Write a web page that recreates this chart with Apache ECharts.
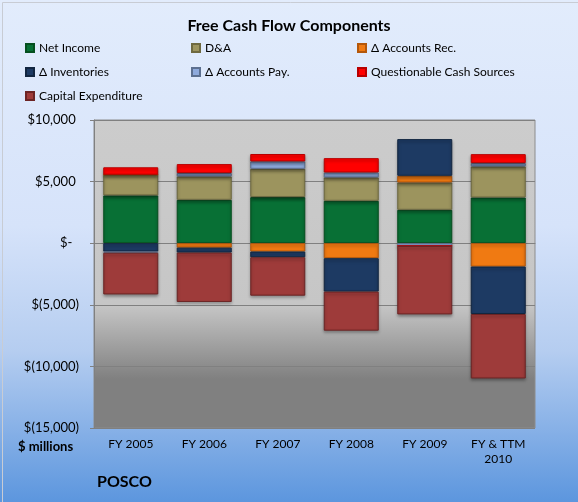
<!DOCTYPE html>
<html>
<head>
<meta charset="utf-8">
<title>Free Cash Flow Components</title>
<script src="https://cdn.jsdelivr.net/npm/echarts@6/dist/echarts.min.js"></script>
<style>
  html, body { margin: 0; padding: 0; }
</style>
</head>
<body>
<div id="main" style="width: 578px;height:502px;"></div>
<script type="text/javascript">
    // categories and values ($ millions)
    var categories = ['FY 2005', 'FY 2006', 'FY 2007', 'FY 2008', 'FY 2009', 'FY & TTM\n2010'];
    var netIncome = [3880, 3520, 3740, 3440, 2710, 3710];
    var depAmort = [1680, 1900, 2300, 1900, 2220, 2520];
    var acctsRec = [0, -360, -680, -1220, 540, -1900];
    var inventories = [-680, -400, -460, -2710, 2980, -3850];
    var acctsPay = [-90, 270, 600, 400, -220, 270];
    var questionable = [600, 730, 600, 1165, 0, 730];
    var capex = [-3390, -4010, -3120, -3170, -5560, -5230];
    var yTicks = [-15000, -10000, -5000, 0, 5000, 10000];

    var font = 'Lato';

    function fmtMoney(v) {
        if (v === 0) return '$-  ';
        var s = Math.abs(v).toLocaleString('en-US');
        return v < 0 ? '$(' + s + ')' : '$' + s + ' ';
    }

    function barSeries(name, data, color, border) {
        return {
            name: name,
            type: 'bar',
            stack: 'fcf',
            barWidth: 55,
            data: data,
            itemStyle: {
                color: color,
                borderColor: border,
                borderWidth: 1,
                shadowBlur: 3,
                shadowOffsetY: 2,
                shadowColor: 'rgba(0,0,0,0.35)'
            }
        };
    }

    var myChart = echarts.init(document.getElementById('main'));
    var legendText = { fontFamily: font, fontSize: 12, color: '#000' };
    var legendBase = {
        orient: 'vertical',
        top: 37,
        itemWidth: 8,
        itemHeight: 8,
        itemGap: 12,
        icon: 'rect',
        textStyle: legendText,
        selectedMode: false
    };

    var option = {
        backgroundColor: {
            type: 'linear', x: 0, y: 0, x2: 0, y2: 1,
            colorStops: [
                { offset: 0, color: '#E2ECFC' },
                { offset: 0.45, color: '#D6E3FA' },
                { offset: 0.7, color: '#B5CDF0' },
                { offset: 1, color: '#5C96DE' }
            ]
        },
        textStyle: { fontFamily: font },
        title: {
            text: 'Free Cash Flow Components',
            left: 'center',
            top: 13,
            textStyle: { fontFamily: font, fontSize: 16, fontWeight: 'bold', color: '#000' }
        },
        legend: [
            Object.assign({}, legendBase, { left: 20, data: ['Net Income', 'Δ Inventories', 'Capital Expenditure'] }),
            Object.assign({}, legendBase, { left: 186, data: ['D&A', 'Δ Accounts Pay.'] }),
            Object.assign({}, legendBase, { left: 352, data: ['Δ Accounts Rec.', 'Questionable Cash Sources'] })
        ],
        grid: {
            left: 94, right: 43, top: 120, bottom: 74,
            show: true,
            borderColor: '#8C8C8C',
            borderWidth: 1,
            backgroundColor: {
                type: 'linear', x: 0, y: 0, x2: 0, y2: 1,
                colorStops: [
                    { offset: 0, color: '#CCCCCC' },
                    { offset: 0.6, color: '#C6C6C6' },
                    { offset: 0.84, color: '#808080' },
                    { offset: 1, color: '#808080' }
                ]
            }
        },
        xAxis: [{
            type: 'category',
            data: categories,
            axisLine: { onZero: true, lineStyle: { color: '#808080' } },
            axisTick: { inside: true, length: 4, lineStyle: { color: '#808080' } },
            axisLabel: { show: false }
        }, {
            type: 'category',
            data: categories,
            position: 'bottom',
            axisLine: { show: false, onZero: false },
            axisTick: { show: false },
            axisLabel: { fontFamily: font, fontSize: 12, color: '#000', margin: 9, lineHeight: 15 }
        }],
        yAxis: {
            type: 'value',
            min: yTicks[0],
            max: yTicks[yTicks.length - 1],
            interval: 5000,
            axisLine: { show: true, lineStyle: { color: '#808080' } },
            axisTick: { show: true, length: 4, lineStyle: { color: '#808080' } },
            splitLine: { lineStyle: { color: '#808080', width: 1 } },
            axisLabel: {
                fontFamily: font, fontSize: 13, color: '#000', margin: 15,
                formatter: fmtMoney
            }
        },
        graphic: [
            {
                type: 'text', left: 18, top: 440,
                style: { text: '$ millions', fontFamily: font, fontSize: 13, fontWeight: 'bold', fill: '#000' }
            },
            {
                type: 'text', left: 97, top: 474,
                style: { text: 'POSCO', fontFamily: font, fontSize: 16, fontWeight: 'bold', fill: '#000' }
            },
            {
                type: 'rect', left: 0, top: 0, z: 100, silent: true,
                shape: { x: 0.5, y: 0.5, width: 577, height: 501 },
                style: { fill: 'none', stroke: '#C8CCD4', lineWidth: 1 }
            }
        ],
        series: [
            barSeries('Net Income', netIncome, '#087035', '#05501F'),
            barSeries('D&A', depAmort, '#9C945E', '#6E6940'),
            barSeries('Δ Accounts Rec.', acctsRec, '#F07A12', '#B4570A'),
            barSeries('Δ Inventories', inventories, '#1D3A63', '#122640'),
            barSeries('Δ Accounts Pay.', acctsPay, '#8EAADC', '#5C7090'),
            barSeries('Questionable Cash Sources', questionable, '#FF0000', '#B80000'),
            barSeries('Capital Expenditure', capex, '#9E3B3A', '#6C2424')
        ]
    };

    myChart.setOption(option);
</script>
</body>
</html>
